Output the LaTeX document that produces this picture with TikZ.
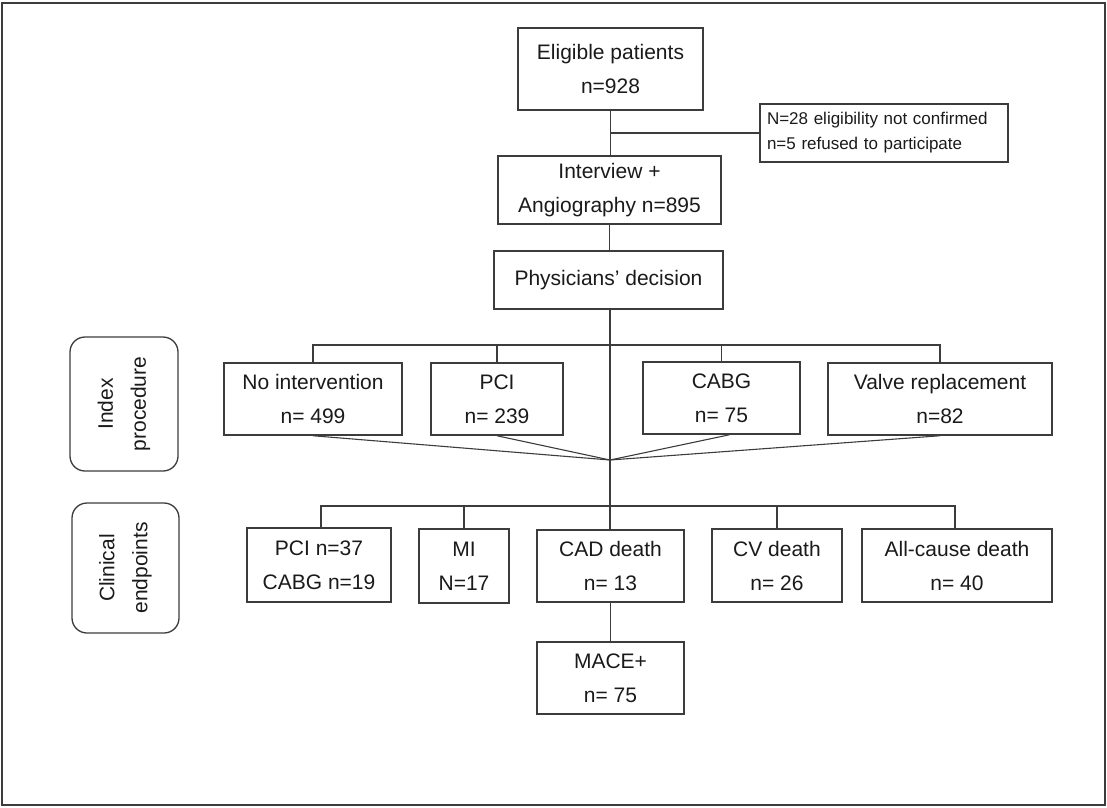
\documentclass[tikz,border=0pt]{standalone}
\usepackage{fontspec}
\setmainfont{Liberation Sans}
\definecolor{linec}{HTML}{3C3C3C}
\definecolor{txtc}{HTML}{1A1A1A}
\begin{document}
\begin{tikzpicture}[x=1pt,y=-1pt,
  box/.style={draw=linec, line width=1.5pt, inner sep=0pt, align=center,
    font=\fontsize{21}{34}\selectfont, text=txtc},
  sidebox/.style={draw=linec, line width=1.3pt, inner xsep=7pt, inner ysep=0pt, align=left,
    font=\fontsize{17}{25}\selectfont, text=txtc},
  lblbox/.style={draw=linec, line width=1.3pt, rounded corners=15pt, inner sep=0pt, align=center,
    font=\fontsize{21}{33}\selectfont, text=txtc, rotate=90},
  conn/.style={draw=linec, line width=1.4pt}]
\useasboundingbox (0,0) rectangle (1107,807);
\draw[draw=linec, line width=2pt] (2,3) rectangle (1105,805);

% top chain
\node[box, minimum width=185pt, minimum height=82pt] (elig) at (610.5,69) {Eligible  patients\\n=928};
\node[sidebox, minimum height=58pt, text width=234pt] (side) at (884,133) {N=28 eligibility not confirmed\\n=5 refused to participate};
\node[box, minimum width=223pt, minimum height=68pt] (inter) at (609.5,190) {Interview  +\\Angiography  n=895};
\node[box, minimum width=229pt, minimum height=58pt] (phys) at (608.5,280) {Physicians’  decision};

% index procedure row
\node[lblbox, minimum width=134pt, minimum height=108pt] (idx) at (124,404) {Index\\procedure};
\node[box, minimum width=178pt, minimum height=72pt] (noint) at (313,399) {No intervention\\n= 499};
\node[box, minimum width=132pt, minimum height=72pt] (pci) at (497,399) {PCI\\n= 239};
\node[box, minimum width=157pt, minimum height=72pt] (cabg) at (721.5,398) {CABG\\n= 75};
\node[box, minimum width=224pt, minimum height=72pt] (valve) at (940,399) {Valve  replacement\\n=82};

% clinical endpoints row
\node[lblbox, minimum width=130pt, minimum height=107pt] (clin) at (125.5,568) {Clinical\\endpoints};
\node[box, minimum width=144pt, minimum height=74pt] (epci) at (319,565) {PCI  n=37\\CABG n=19};
\node[box, minimum width=90pt, minimum height=74pt] (mi) at (464,566) {MI\\N=17};
\node[box, minimum width=147pt, minimum height=72pt] (cad) at (610.5,566) {CAD death\\n= 13};
\node[box, minimum width=130pt, minimum height=73pt] (cv) at (777,565.5) {CV death\\n= 26};
\node[box, minimum width=190pt, minimum height=73pt] (allc) at (957,565.5) {All-cause  death\\n= 40};
\node[box, minimum width=147pt, minimum height=72pt] (mace) at (610.5,678) {MACE+\\n= 75};

% connectors
\coordinate (tb) at (610,345);
\coordinate (conv) at (610,460);
\coordinate (bb) at (610,506);

\draw[conn] (elig.south) -- (elig.south |- inter.north);
\draw[conn] (side.west -| elig.south) -- (side.west);
\draw[conn] (inter.south) -- (inter.south |- phys.north);
\draw[conn] (phys.south -| tb) -- (conv) -- (cad.north -| conv);

\draw[conn] (noint.north) -- (noint.north |- tb) -- (valve.north |- tb) -- (valve.north);
\draw[conn] (pci.north) -- (pci.north |- tb);
\draw[conn] (cabg.north) -- (cabg.north |- tb);

\draw[conn, line width=1.1pt] (noint.south) -- (conv);
\draw[conn, line width=1.1pt] (pci.south) -- (conv);
\draw[conn, line width=1.1pt] ([xshift=8pt]cabg.south) -- (conv);
\draw[conn, line width=1.1pt] (valve.south) -- (conv);

\draw[conn] ([xshift=2pt]epci.north) -- ([xshift=2pt]epci.north |- bb) -- ([xshift=-2pt]allc.north |- bb) -- ([xshift=-2pt]allc.north);
\draw[conn] (mi.north) -- (mi.north |- bb);
\draw[conn] (cv.north) -- (cv.north |- bb);
\draw[conn] (cad.south) -- (mace.north);
\end{tikzpicture}
\end{document}
